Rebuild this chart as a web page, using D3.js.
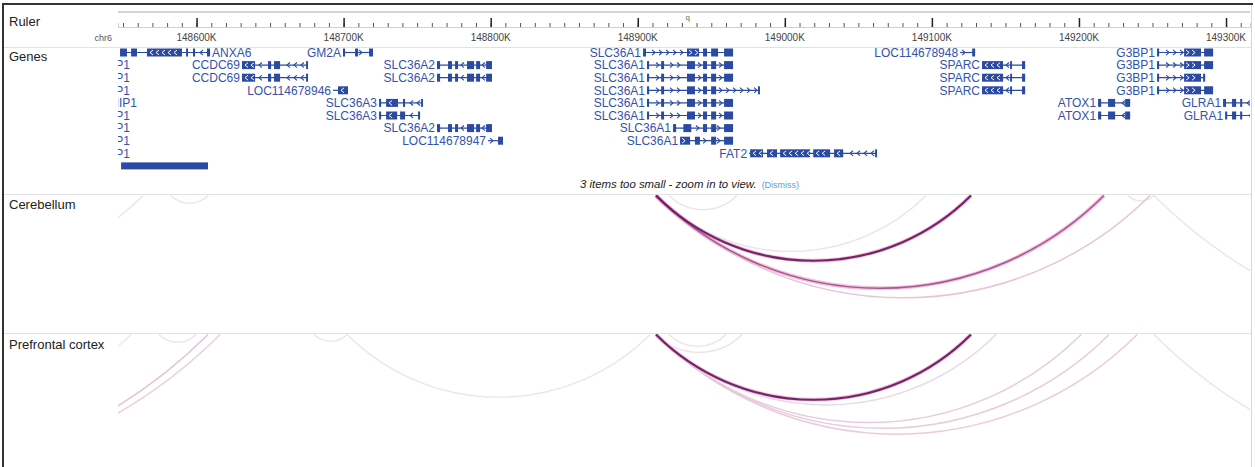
<!DOCTYPE html>
<html><head><meta charset="utf-8">
<script src="https://cdn.jsdelivr.net/npm/d3@7"></script>
<style>
body{margin:0;background:#fff;}
svg{display:block;font-family:Arial,"Liberation Sans",sans-serif;}
</style></head><body>
<svg id="chart" width="1255" height="467"></svg>
<script>
// Genomic window shown (kb) and ruler
const viewKb = [148546.6, 149316.3];
const rulerMajorKb = [148600, 148700, 148800, 148900, 149000, 149100, 149200, 149300];
const rulerLabels = ["148600K", "148700K", "148800K", "148900K", "149000K", "149100K", "149200K", "149300K"];
const rulerMinorKb = d3.range(148550, 149320, 10);
const chromName = "chr6";
const bandName = "q";
const bandKb = 148934;
const trackNames = ["Ruler", "Genes", "Cerebellum", "Prefrontal cortex"];

// Transcripts: name, row, strand, start/end (kb), exon blocks (kb)
const transcripts = [
  {name:"ANXA6", row:0, strand:"-", start:148548.0, end:148609.2, exons:[[148548.0,148552.7],[148555.5,148559.5],[148566.3,148590.1],[148592.9,148594.2],[148597.6,148599.0],[148607.1,148609.2]]},
  {name:"GM2A", row:0, strand:"+", start:148699.6, end:148720.0, exons:[[148699.6,148701.0],[148707.8,148709.8],[148717.3,148720.0]]},
  {name:"SLC36A1", row:0, strand:"+", start:148903.6, end:148964.8, exons:[[148903.6,148905.6],[148933.5,148941.7],[148944.4,148947.1],[148949.9,148954.6],[148958.7,148964.8]]},
  {name:"LOC114678948", row:0, strand:"+", start:149119.2, end:149129.4, exons:[[149127.4,149129.4]]},
  {name:"G3BP1", row:0, strand:"+", start:149253.1, end:149291.2, exons:[[149253.1,149254.5],[149271.5,149283.0],[149285.1,149291.2]]},

  {name:"CCDC69", row:1, strand:"-", start:148630.9, end:148675.8, exons:[[148630.9,148639.8],[148648.6,148650.7],[148652.7,148656.8],[148674.5,148675.8]]},
  {name:"SLC36A2", row:1, strand:"-", start:148763.5, end:148800.9, exons:[[148763.5,148765.6],[148771.0,148773.7],[148775.8,148777.8],[148783.9,148788.7],[148790.1,148792.8],[148796.9,148800.9]]},
  {name:"SLC36A1", row:1, strand:"+", start:148906.3, end:148964.8, exons:[[148906.3,148907.7],[148915.9,148917.9],[148933.5,148938.9],[148944.4,148947.1],[148949.9,148953.3],[148958.7,148964.8]]},
  {name:"SPARC", row:1, strand:"-", start:149134.1, end:149163.4, exons:[[149134.1,149148.4],[149153.2,149154.5],[149161.3,149163.4]]},
  {name:"G3BP1", row:1, strand:"+", start:149253.1, end:149291.2, exons:[[149253.1,149254.5],[149271.5,149283.0],[149285.1,149291.2]]},

  {name:"CCDC69", row:2, strand:"-", start:148630.9, end:148675.8, exons:[[148630.9,148639.8],[148648.6,148650.7],[148652.7,148656.8],[148674.5,148675.8]]},
  {name:"SLC36A2", row:2, strand:"-", start:148763.5, end:148800.9, exons:[[148763.5,148765.6],[148771.0,148773.7],[148775.8,148777.8],[148783.9,148788.7],[148790.1,148792.8],[148796.9,148800.9]]},
  {name:"SLC36A1", row:2, strand:"+", start:148906.3, end:148964.8, exons:[[148906.3,148907.7],[148915.9,148917.9],[148933.5,148938.9],[148944.4,148947.1],[148949.9,148953.3],[148958.7,148964.8]]},
  {name:"SPARC", row:2, strand:"-", start:149134.1, end:149163.4, exons:[[149134.1,149148.4],[149153.2,149154.5],[149161.3,149163.4]]},
  {name:"G3BP1", row:2, strand:"+", start:149253.1, end:149285.8, exons:[[149253.1,149254.5],[149271.5,149283.0],[149284.4,149285.8]]},

  {name:"LOC114678946", row:3, strand:"-", start:148692.8, end:148703.0, exons:[[148696.2,148703.0]]},
  {name:"SLC36A1", row:3, strand:"+", start:148906.3, end:148983.1, exons:[[148906.3,148907.7],[148915.9,148917.9],[148933.5,148938.9],[148944.4,148947.1],[148949.9,148953.3],[148981.8,148983.1]]},
  {name:"SPARC", row:3, strand:"-", start:149134.1, end:149163.4, exons:[[149134.1,149148.4],[149153.2,149154.5],[149161.3,149163.4]]},
  {name:"G3BP1", row:3, strand:"+", start:149253.1, end:149291.2, exons:[[149253.1,149254.5],[149271.5,149283.0],[149285.1,149291.2]]},

  {name:"SLC36A3", row:4, strand:"-", start:148724.1, end:148754.0, exons:[[148724.1,148725.5],[148728.9,148737.0],[148740.4,148741.8],[148752.7,148754.0]]},
  {name:"SLC36A1", row:4, strand:"+", start:148906.3, end:148964.8, exons:[[148906.3,148907.7],[148915.9,148917.9],[148933.5,148938.9],[148944.4,148947.1],[148949.9,148953.3],[148958.7,148964.8]]},
  {name:"ATOX1", row:4, strand:"-", start:149213.0, end:149234.8, exons:[[149213.0,149215.1],[149219.8,149224.6],[149231.4,149234.8]]},
  {name:"GLRA1", row:4, strand:"-", start:149298.0, end:149323.2, exons:[[149298.0,149300.0],[149304.1,149306.9],[149309.6,149311.0]]},

  {name:"SLC36A3", row:5, strand:"-", start:148724.1, end:148752.0, exons:[[148724.1,148725.5],[148728.9,148736.4],[148738.4,148741.8],[148750.6,148752.0]]},
  {name:"SLC36A1", row:5, strand:"+", start:148906.3, end:148964.8, exons:[[148906.3,148907.7],[148915.9,148917.9],[148933.5,148938.9],[148944.4,148947.1],[148949.9,148953.3],[148958.7,148964.8]]},
  {name:"ATOX1", row:5, strand:"-", start:149213.0, end:149234.8, exons:[[149213.0,149215.1],[149219.8,149224.6],[149231.4,149234.8]]},
  {name:"GLRA1", row:5, strand:"-", start:149299.4, end:149323.2, exons:[[149299.4,149300.8],[149304.1,149306.9],[149309.6,149311.0]]},

  {name:"SLC36A2", row:6, strand:"-", start:148763.5, end:148800.9, exons:[[148763.5,148765.6],[148771.0,148773.7],[148775.8,148777.8],[148783.9,148788.7],[148790.1,148792.8],[148796.9,148800.9]]},
  {name:"SLC36A1", row:6, strand:"+", start:148924.0, end:148964.8, exons:[[148924.0,148926.1],[148931.0,148936.4],[148944.4,148947.1],[148949.9,148953.3],[148958.7,148964.8]]},

  {name:"LOC114678947", row:7, strand:"+", start:148798.2, end:148808.4, exons:[[148805.0,148808.4]]},
  {name:"SLC36A1", row:7, strand:"+", start:148928.8, end:148964.8, exons:[[148928.8,148935.6],[148938.9,148942.3],[148949.9,148953.3],[148958.7,148964.8]]},

  {name:"FAT2", row:8, strand:"-", start:148975.7, end:149062.7, exons:[[148976.4,148985.2],[148987.9,148994.7],[148996.8,149017.2],[149019.3,149030.8],[149033.5,149039.7],[149061.4,149062.7]]}
];

// Labels of transcripts lying left of the window, pinned at the edge
const pinnedLabels = [
  {name:"TNIP1", row:1, endKb:148554.8}, {name:"TNIP1", row:2, endKb:148554.8},
  {name:"TNIP1", row:3, endKb:148554.8}, {name:"TNIP1", row:4, endKb:148559.5},
  {name:"TNIP1", row:5, endKb:148554.8}, {name:"TNIP1", row:6, endKb:148554.8},
  {name:"TNIP1", row:7, endKb:148554.8}, {name:"TNIP1", row:8, endKb:148554.8}
];
// Collapsed feature block
const collapsedBlocks = [{row:9, start:148548.7, end:148607.8}];
const hiddenNote = "3 items too small - zoom in to view.";

// Chromatin interaction arcs (anchor positions in kb, normalised score)
const cerebellumArcs = [
  {from:148300.0, to:148563.6, score:0.04},
  {from:148582.7, to:148607.8, score:0.04},
  {from:148921.3, to:148967.5, score:0.06},
  {from:148912.4, to:149096.0, score:0.06},
  {from:148912.4, to:149248.3, score:0.2},
  {from:148912.4, to:149217.0, score:0.55},
  {from:148912.4, to:149126.6, score:1.0},
  {from:149233.4, to:149251.0, score:0.04},
  {from:149251.0, to:149732.0, score:0.05}
];
const prefrontalArcs = [
  {from:148127.0, to:148607.8, score:0.22},
  {from:148135.0, to:148616.0, score:0.14},
  {from:148400.0, to:148555.5, score:0.04},
  {from:148574.5, to:148599.7, score:0.04},
  {from:148680.0, to:148702.5, score:0.04},
  {from:148702.5, to:148908.4, score:0.04},
  {from:148912.4, to:148971.0, score:0.06},
  {from:148921.3, to:148960.0, score:0.05},
  {from:148912.4, to:149143.6, score:0.1},
  {from:148912.4, to:149201.5, score:0.16},
  {from:148912.4, to:149220.5, score:0.16},
  {from:148912.4, to:149239.6, score:0.16},
  {from:148912.4, to:149126.6, score:1.0},
  {from:149251.0, to:149732.0, score:0.05}
];

const W = 1255, H = 467;
const svg = d3.select("#chart");
const x = d3.scaleLinear().domain(viewKb).range([118, 1250]);
const rowY = d3.scaleLinear().domain([0, 1]).range([52.5, 65.1]);
const geneColor = "#2b4aa3", labelColor = "#3452ac";
const arcColor = d3.scaleLinear().domain([0, 0.25, 0.55, 1])
  .range(["#eeeaec", "#e2b4cf", "#a24c8a", "#6a1660"]);

// Clip regions
const defs = svg.append("defs");
function clip(id, y0, y1){
  defs.append("clipPath").attr("id", id).append("rect")
    .attr("x", 118).attr("y", y0).attr("width", 1132).attr("height", y1 - y0);
}
clip("clipGenes", 47, 194); clip("clipCereb", 195, 333); clip("clipPfc", 334, 467);

// Track separators and frame
svg.selectAll("line.sep").data([47, 194, 333]).join("line")
  .attr("x1", 4).attr("x2", 1251).attr("y1", d => d + 0.5).attr("y2", d => d + 0.5)
  .attr("stroke", "#e2e2e2").attr("stroke-width", 1);
svg.append("line").attr("x1", 1251.5).attr("x2", 1251.5).attr("y1", 5).attr("y2", H)
  .attr("stroke", "#d8d8d8");
svg.append("line").attr("x1", 2).attr("x2", 1253).attr("y1", 4).attr("y2", 4)
  .attr("stroke", "#333").attr("stroke-width", 2);
svg.append("line").attr("x1", 3).attr("x2", 3).attr("y1", 3).attr("y2", H)
  .attr("stroke", "#333").attr("stroke-width", 2);

// Track labels
const labelBaselines = [26, 61, 209, 349];
svg.selectAll("text.track").data(trackNames).join("text")
  .attr("x", 9).attr("y", (d, i) => labelBaselines[i])
  .attr("font-size", 13).attr("fill", "#222").text(d => d);

// Ruler
svg.append("line").attr("x1", 118).attr("x2", 1250).attr("y1", 12).attr("y2", 12)
  .attr("stroke", "#d4d4d4").attr("stroke-width", 2);
const minorAxis = svg.append("g").attr("transform", "translate(0,27)")
  .call(d3.axisTop(x).tickValues(rulerMinorKb).tickSize(4).tickFormat(""));
minorAxis.select(".domain").attr("stroke", "#cfcfcf");
minorAxis.selectAll(".tick line").attr("stroke", "#555");
const majorAxis = svg.append("g").attr("transform", "translate(0,27)")
  .call(d3.axisTop(x).tickValues(rulerMajorKb).tickSize(9).tickFormat(""));
majorAxis.select(".domain").remove();
majorAxis.selectAll(".tick line").attr("stroke", "#222").attr("stroke-width", 1.5);
svg.selectAll("text.rl").data(rulerMajorKb).join("text")
  .attr("x", d => x(d)).attr("y", 41).attr("text-anchor", "middle")
  .attr("font-size", 10).attr("fill", "#444").text((d, i) => rulerLabels[i]);
svg.append("text").attr("x", 112).attr("y", 41).attr("text-anchor", "end")
  .attr("font-size", 9).attr("fill", "#555").text(chromName);
svg.append("text").attr("x", x(bandKb)).attr("y", 20).attr("text-anchor", "middle")
  .attr("font-size", 8).attr("fill", "#666").text(bandName);

// Genes
const gGenes = svg.append("g").attr("clip-path", "url(#clipGenes)");
function chevron(px, y, strand, h){
  return strand === "+" ? `M${px-2},${y-h}L${px+1},${y}L${px-2},${y+h}`
                        : `M${px+2},${y-h}L${px-1},${y}L${px+2},${y+h}`;
}
transcripts.forEach(t => {
  const y = rowY(t.row), x0 = x(t.start), x1 = x(t.end);
  const g = gGenes.append("g");
  g.append("line").attr("x1", x0).attr("x2", x1).attr("y1", y).attr("y2", y)
    .attr("stroke", geneColor).attr("stroke-width", 1.2);
  // intron chevrons
  const pts = [];
  for (let px = x0 + 4; px < x1 - 2; px += 7) {
    const inEx = t.exons.some(e => px >= x(e[0]) - 2 && px <= x(e[1]) + 2);
    if (!inEx) pts.push(px);
  }
  g.selectAll("path.chev").data(pts).join("path")
    .attr("d", px => chevron(px, y, t.strand, 2.6))
    .attr("fill", "none").attr("stroke", geneColor).attr("stroke-width", 1.1);
  g.selectAll("rect.exon").data(t.exons).join("rect")
    .attr("x", e => x(e[0])).attr("width", e => Math.max(1.5, x(e[1]) - x(e[0])))
    .attr("y", y - 4).attr("height", 8).attr("fill", geneColor);
  // white chevrons inside wide exons
  const wpts = [];
  t.exons.forEach(e => {
    const a = x(e[0]), b = x(e[1]);
    if (b - a >= 9) for (let px = a + 4; px < b - 2; px += 6) wpts.push(px);
  });
  g.selectAll("path.wchev").data(wpts).join("path")
    .attr("d", px => chevron(px, y, t.strand, 2.4))
    .attr("fill", "none").attr("stroke", "#fff").attr("stroke-width", 1);
  const lbl = g.append("text").attr("y", y).attr("dy", "0.36em")
    .attr("font-size", 12).attr("fill", labelColor).text(t.name);
  const w = lbl.node().getComputedTextLength();
  if (x0 - 3 - w < 118) lbl.attr("x", x1 + 2).attr("text-anchor", "start");
  else lbl.attr("x", x0 - 2).attr("text-anchor", "end");
});
gGenes.selectAll("text.pin").data(pinnedLabels).join("text")
  .attr("x", d => x(d.endKb)).attr("y", d => rowY(d.row)).attr("dy", "0.36em")
  .attr("text-anchor", "end").attr("font-size", 12).attr("fill", labelColor)
  .text(d => d.name);
gGenes.selectAll("rect.block").data(collapsedBlocks).join("rect")
  .attr("x", d => x(d.start)).attr("width", d => x(d.end) - x(d.start))
  .attr("y", d => rowY(d.row) - 3.5).attr("height", 7).attr("fill", geneColor);
const note = svg.append("text").attr("x", 580).attr("y", 188)
  .attr("font-size", 11.4).attr("font-style", "italic").attr("fill", "#222").text(hiddenNote);
const nw = note.node().getComputedTextLength();
svg.append("text").attr("x", 580 + nw + 5).attr("y", 188)
  .attr("font-size", 9).attr("fill", "#5f9ed8").text("(Dismiss)");

// Interaction arcs: 90-degree circular segments hanging from the track top
function arcPath(d, top){
  const a = x(d.from), b = x(d.to), r = (b - a) / Math.SQRT2;
  return `M${a},${top}A${r},${r} 0 0 0 ${b},${top}`;
}
function drawArcs(data, top, clipId){
  const g = svg.append("g").attr("clip-path", `url(#${clipId})`);
  const sorted = data.slice().sort((p, q) => p.score - q.score);
  g.selectAll("path.halo").data(sorted.filter(d => d.score >= 0.5)).join("path")
    .attr("d", d => arcPath(d, top)).attr("fill", "none")
    .attr("stroke", "#d2358f").attr("stroke-opacity", 0.3).attr("stroke-width", 4);
  g.selectAll("path.arc").data(sorted).join("path")
    .attr("d", d => arcPath(d, top)).attr("fill", "none")
    .attr("stroke", d => arcColor(d.score))
    .attr("stroke-width", d => d.score >= 0.8 ? 2.2 : d.score >= 0.1 ? 1.5 : 1.3)
    .attr("stroke-opacity", 0.92);
}
drawArcs(cerebellumArcs, 195.5, "clipCereb");
drawArcs(prefrontalArcs, 334.5, "clipPfc");
</script>
</body></html>
